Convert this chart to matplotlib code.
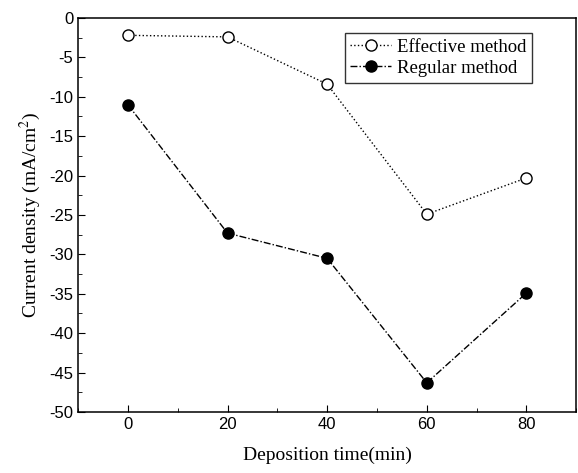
import matplotlib
matplotlib.use('Agg')
from matplotlib import pyplot as plt
from matplotlib.ticker import MultipleLocator

times = [0, 20, 40, 60, 80]
effective = [-2.2, -2.4, -8.4, -24.9, -20.3]
regular = [-11.0, -27.3, -30.5, -46.3, -34.9]

serif = ['Liberation Serif', 'DejaVu Serif']
sans = ['Liberation Sans', 'DejaVu Sans']

plt.rcParams['axes.unicode_minus'] = False
plt.rcParams['mathtext.fontset'] = 'stix'

fig = plt.figure(figsize=(5.78, 4.73), dpi=100)
ax = fig.add_axes([0.135, 0.129, 0.862, 0.833])

ax.plot(times, effective, color='black', linestyle=':', linewidth=1,
        marker='o', markersize=8, markerfacecolor='white',
        markeredgecolor='black', markeredgewidth=1, label='Effective method')
ax.plot(times, regular, color='black', linestyle=(0, (5, 1.5, 1, 1.5)), linewidth=1,
        marker='o', markersize=8, markerfacecolor='black',
        markeredgecolor='black', label='Regular method')

ax.set_xlim(-10, 90)
ax.set_ylim(-50, 0)
ax.xaxis.set_major_locator(MultipleLocator(20))
ax.xaxis.set_minor_locator(MultipleLocator(10))
ax.yaxis.set_major_locator(MultipleLocator(5))
ax.yaxis.set_minor_locator(MultipleLocator(2.5))
ax.tick_params(which='both', direction='in', top=False, right=False)
ax.tick_params(which='major', length=5, labelsize=12)
ax.tick_params(which='minor', length=3)
for lab in ax.get_xticklabels() + ax.get_yticklabels():
    lab.set_family(sans)
for s in ax.spines.values():
    s.set_linewidth(1.1)

ax.set_xlabel('Deposition time(min)', fontsize=14, family=serif, labelpad=11)
ax.set_ylabel('Current density (mA/cm$^2$)', fontsize=14, family=serif, labelpad=4)

leg = ax.legend(loc='upper right', bbox_to_anchor=(0.93, 0.985), prop={'family': serif, 'size': 13.5},
                frameon=True, fancybox=False, edgecolor='black', handlelength=2.2,
                handletextpad=0.3, borderpad=0.3, labelspacing=0.2)
leg.get_frame().set_linewidth(1)

fig.savefig('out.png', dpi=100)
